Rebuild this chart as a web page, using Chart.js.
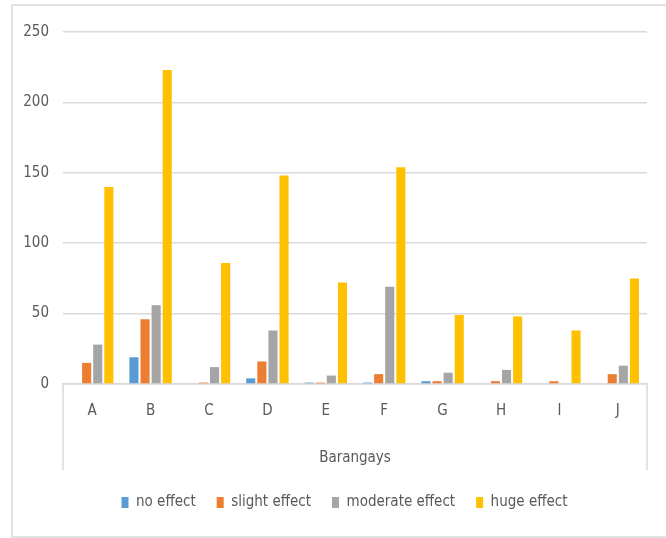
<!DOCTYPE html>
<html>
<head>
<meta charset="utf-8">
<script src="https://cdn.jsdelivr.net/npm/chart.js@4"></script>
<style>
  html, body { margin: 0; padding: 0; background: #fff; }
  #wrap { width: 666px; height: 538px; position: relative; }
</style>
</head>
<body>
<div id="wrap"><canvas id="chart" width="666" height="538"></canvas></div>
<script>
// data
var barangays = ['A', 'B', 'C', 'D', 'E', 'F', 'G', 'H', 'I', 'J'];
var noEffect = [0, 19, 0, 4, 1, 1, 2, 0, 0, 0];
var slightEffect = [15, 46, 1, 16, 1, 7, 2, 2, 2, 7];
var moderateEffect = [28, 56, 12, 38, 6, 69, 8, 10, 0, 13];
var hugeEffect = [140, 223, 86, 148, 72, 154, 49, 48, 38, 75];
var yTicks = [0, 50, 100, 150, 200, 250];

var font = "'Liberation Sans Narrow', 'DejaVu Sans Condensed', sans-serif";
var textColor = '#595959';
var lineColor = '#d9d9d9';

// outer frame + the box lines under the category axis
var framePlugin = {
    id: 'frame',
    afterLayout: function (chart) {
        // legend sits a bit right of centre in the original
        chart.legend.left += 21;
        chart.legend.right += 21;
    },
    afterDraw: function (chart) {
        var ctx = chart.ctx;
        var area = chart.chartArea;
        ctx.save();
        ctx.strokeStyle = lineColor;
        ctx.lineWidth = 1.5;
        ctx.beginPath();
        ctx.moveTo(666, 5);
        ctx.lineTo(12, 5);
        ctx.lineTo(12, 537);
        ctx.lineTo(666, 537);
        ctx.stroke();
        ctx.beginPath();
        ctx.moveTo(area.left, area.bottom);
        ctx.lineTo(area.left, area.bottom + 86);
        ctx.moveTo(area.right, area.bottom);
        ctx.lineTo(area.right, area.bottom + 86);
        ctx.stroke();
        ctx.restore();
    }
};

function makeSet(label, values, color) {
    return {
        label: label,
        data: values,
        backgroundColor: color,
        borderWidth: 0,
        barPercentage: 0.82,
        categoryPercentage: 0.76
    };
}

var config = {
    type: 'bar',
    data: {
        labels: barangays,
        datasets: [
            makeSet('no effect', noEffect, '#5b9bd5'),
            makeSet('slight effect', slightEffect, '#ed7d31'),
            makeSet('moderate effect', moderateEffect, '#a5a5a5'),
            makeSet('huge effect', hugeEffect, '#ffc000')
        ]
    },
    options: {
        responsive: false,
        animation: false,
        layout: { padding: { left: 0, right: 19, top: 32, bottom: 18 } },
        plugins: {
            tooltip: { enabled: false },
            legend: {
                position: 'bottom',
                labels: {
                    boxWidth: 7,
                    boxHeight: 11,
                    padding: 21,
                    color: textColor,
                    font: { family: font, size: 15 }
                }
            }
        },
        scales: {
            x: {
                grid: { display: false },
                border: { display: true, color: lineColor, width: 1.5 },
                ticks: { color: textColor, padding: 10, font: { family: font, size: 15 } },
                title: {
                    display: true,
                    text: 'Barangays',
                    color: textColor,
                    font: { family: font, size: 15 },
                    padding: { top: 0, bottom: 7 }
                },
                afterFit: function (scale) { scale.height = 90; }
            },
            y: {
                min: 0,
                max: 250,
                afterBuildTicks: function (scale) {
                    scale.ticks = yTicks.map(function (v) { return { value: v }; });
                },
                grid: { color: lineColor, lineWidth: 1.5, drawTicks: false },
                border: { display: false },
                ticks: { color: textColor, padding: 14, font: { family: font, size: 15 } },
                afterFit: function (scale) { scale.width = 63; }
            }
        }
    },
    plugins: [framePlugin]
};

new Chart(document.getElementById('chart'), config);
</script>
</body>
</html>
